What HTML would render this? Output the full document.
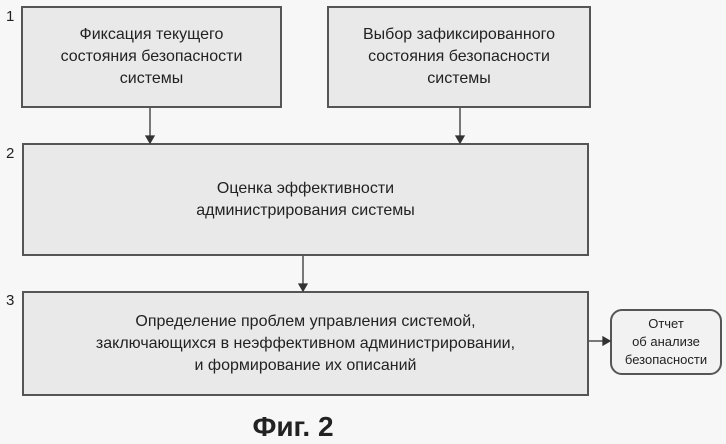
<!DOCTYPE html><html><head><meta charset="utf-8"><style>
body{margin:0;width:726px;height:444px;background:#f7f7f7;position:relative;font-family:"Liberation Sans",sans-serif;color:#222;overflow:hidden}
.b{position:absolute;background:#e9e9e9;border:2px solid #555;box-sizing:border-box;display:flex;align-items:center;justify-content:center;text-align:center;font-size:16px;line-height:22px}
.n{position:absolute;font-size:15px}
</style></head><body>
<div class="n" style="left:6px;top:8px">1</div>
<div class="n" style="left:6px;top:145px">2</div>
<div class="n" style="left:6px;top:292px">3</div>
<div class="b" style="left:21px;top:6px;width:261px;height:102px">Фиксация текущего<br>состояния безопасности<br>системы</div>
<div class="b" style="left:327px;top:6px;width:264px;height:102px">Выбор зафиксированного<br>состояния безопасности<br>системы</div>
<div class="b" style="left:22px;top:143px;width:567px;height:113px">Оценка эффективности<br>администрирования системы</div>
<div class="b" style="left:22px;top:291px;width:567px;height:105px">Определение проблем управления системой,<br>заключающихся в неэффективном администрировании,<br>и формирование их описаний</div>
<div class="b" style="left:610px;top:309px;width:112px;height:66px;border-radius:12px;background:#f2f2f2;font-size:13px;line-height:18px">Отчет<br>об анализе<br>безопасности</div>
<svg style="position:absolute;left:0;top:0" width="726" height="444">
<g stroke="#333" stroke-width="1.3" fill="#333">
<line x1="150" y1="108" x2="150" y2="138"/><path d="M146,136 L154,136 L150,143Z"/>
<line x1="460" y1="108" x2="460" y2="138"/><path d="M456,136 L464,136 L460,143Z"/>
<line x1="303" y1="256" x2="303" y2="286"/><path d="M299,284 L307,284 L303,291Z"/>
<line x1="589" y1="341" x2="605" y2="341"/><path d="M603,337 L603,345 L610,341Z"/>
</g></svg>
<div style="position:absolute;left:233px;top:411px;width:120px;text-align:center;font-weight:bold;font-size:28px">Фиг. 2</div>
</body></html>
